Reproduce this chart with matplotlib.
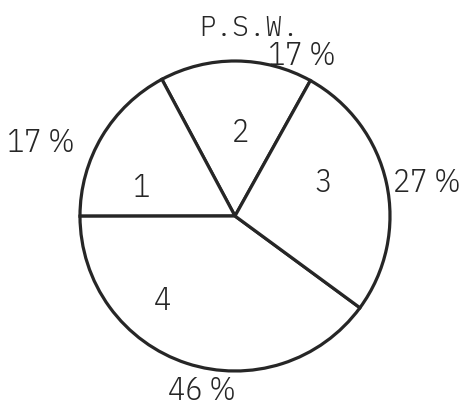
import matplotlib
matplotlib.use("Agg")
import matplotlib.pyplot as plt

# Data read from the drawn sector angles (counterclockwise from the
# boundary between sectors 3 and 2 at ~61 deg)
sectors = ["2", "1", "4", "3"]
values = [15.9, 17.2, 39.9, 27.0]
pct_labels = ["17 %", "17 %", "46 %", "27 %"]
title = "P.S.W."

W, H = 464, 405
fig = plt.figure(figsize=(W / 100, H / 100), dpi=100)
ax = fig.add_axes([0, 0, 1, 1])

def Y(y):  # image y -> data y
    return H - y

ink = "#262626"
ax.pie(values, startangle=60.9, counterclock=True, center=(235, Y(216)),
       radius=155, colors=["white"] * 4,
       wedgeprops=dict(edgecolor=ink, linewidth=2.3), frame=True)
ax.set_xlim(0, W)
ax.set_ylim(0, H)
ax.set_aspect("equal")
ax.axis("off")

fam = ["IBM Plex Sans Condensed", "DejaVu Sans"]
fs = 23
num_pos = {"1": (142, 185), "2": (240, 130), "3": (323, 180), "4": (162, 298)}
pct_pos = {0: (302, 53), 1: (41, 140), 2: (202, 388), 3: (427, 180)}
for i, s in enumerate(sectors):
    x, y = num_pos[s]
    ax.text(x, Y(y), s, ha="center", va="center_baseline", fontsize=fs, color=ink,
            family=fam, fontweight=300)
    x, y = pct_pos[i]
    ax.text(x, Y(y), pct_labels[i], ha="center", va="center_baseline", fontsize=fs, color=ink,
            family=fam, fontweight=300)

ax.text(249, Y(25), title, ha="center", va="center_baseline", fontsize=20, color=ink,
        family=["IBM Plex Mono", "DejaVu Sans Mono"], fontweight=300)

fig.savefig("out.png", dpi=100, facecolor="white")
